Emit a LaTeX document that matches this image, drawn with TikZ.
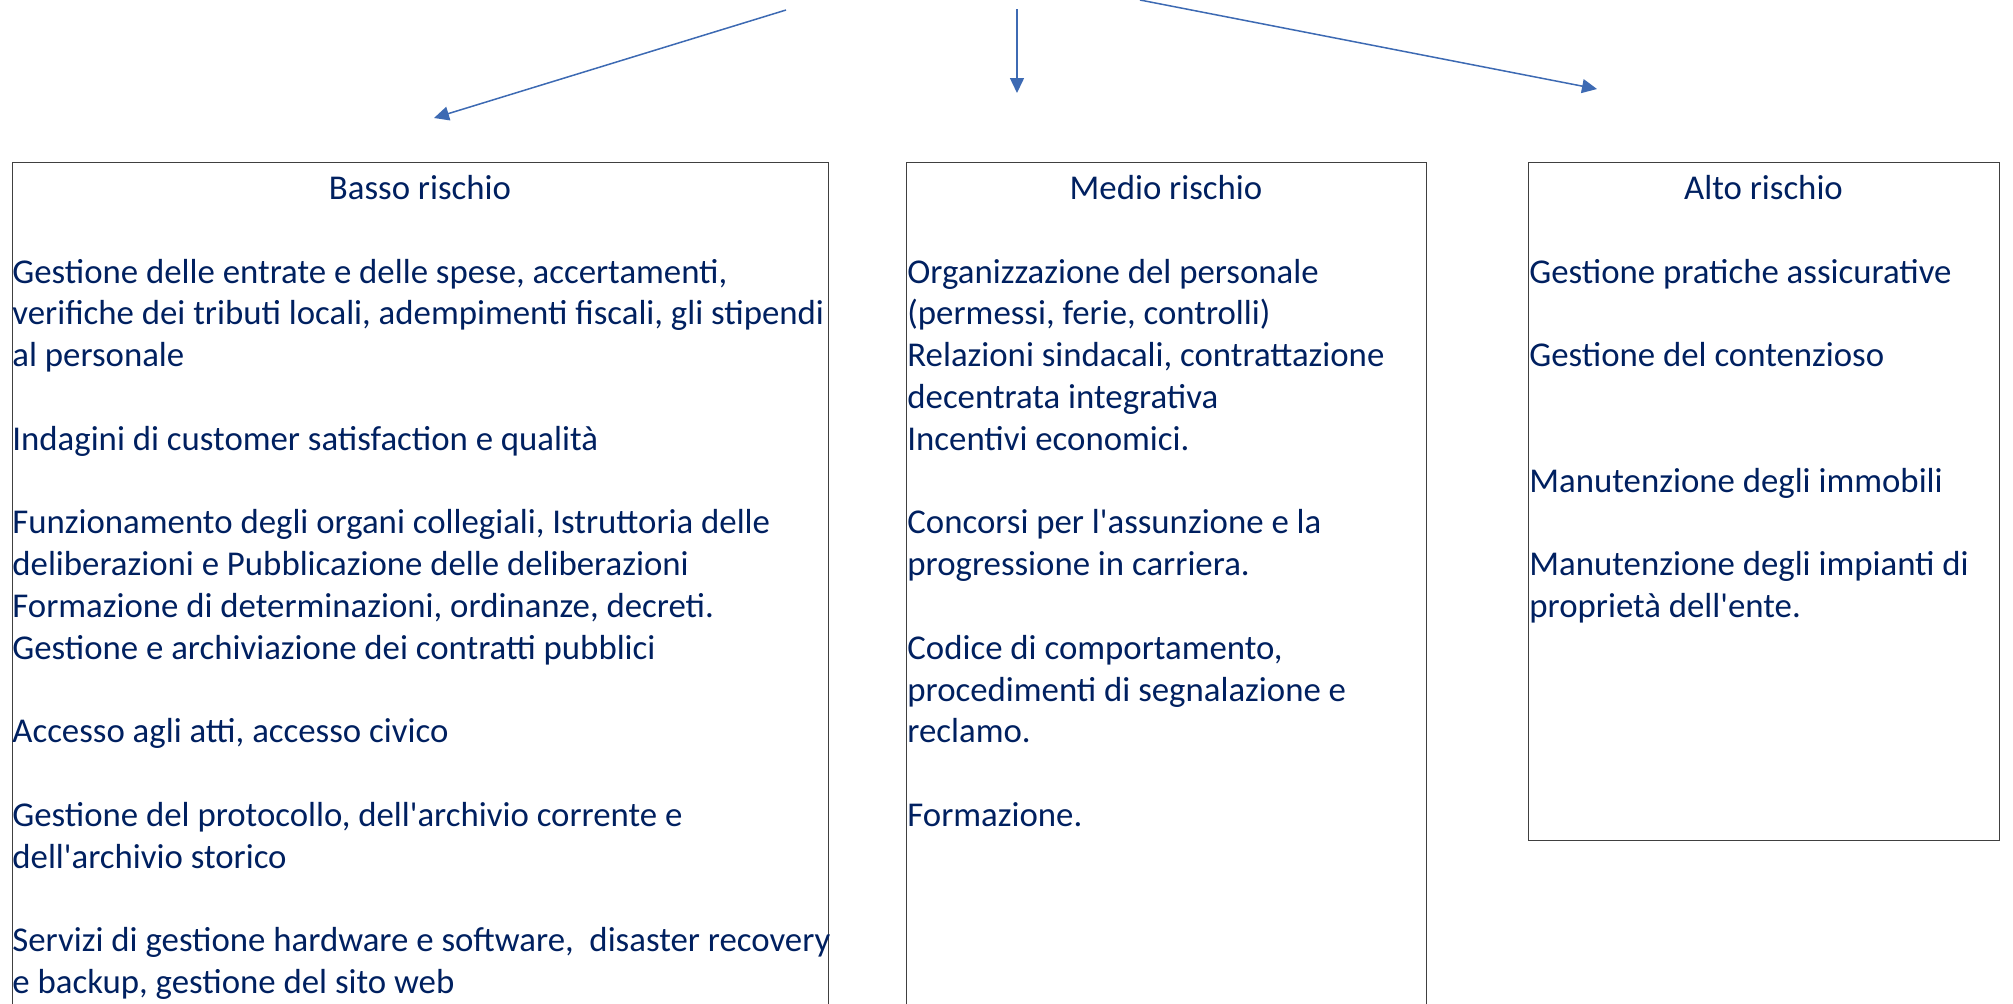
\documentclass[tikz,border=0pt]{standalone}
\usepackage{fontspec}
\setmainfont{Carlito}[Ligatures=TeXOff]
\usetikzlibrary{arrows.meta,positioning}
\definecolor{navy}{HTML}{002060}
\definecolor{arrowblue}{HTML}{3D6AB3}
\definecolor{boxline}{HTML}{404040}
\newlength{\pxu}\setlength{\pxu}{0.5pt}
\newcommand{\boxtext}[1]{\begin{tabular}[t]{@{}l@{}}#1\end{tabular}}
\tikzset{
	riskbox/.style={draw=boxline, line width=0.7pt, anchor=north west, inner sep=0pt},
	risktitle/.style={anchor=base, inner sep=0pt},
	risktext/.style={anchor=base west, inner sep=0pt},
	link/.style={->, draw=arrowblue, fill=arrowblue, line width=0.75pt}
}

\begin{document}
\begin{tikzpicture}[x=0.5pt, y=-0.5pt, >={Triangle[length=7.5pt,width=7pt]},
		font=\fontsize{17.4}{20.9}\selectfont, text=navy]
			\useasboundingbox (0,0) rectangle (2013,1003);
			\clip (0,0) rectangle (2013,1003);

			% Boxes
			\node[riskbox, minimum width=816.5\pxu, minimum height=900\pxu] (basso) at (11.5,162) {};
			\node[riskbox, minimum width=520\pxu, minimum height=900\pxu] (medio) at (906,162) {};
			\node[riskbox, minimum width=471\pxu, minimum height=678\pxu] (alto) at (1528,162) {};

			% Titles
			\node[risktitle] (bassotitle) at (420,199) {Basso rischio};
			\node[risktitle] (mediotitle) at (1166,199) {Medio rischio};
			\node[risktitle] (altotitle) at (1763.5,199) {Alto rischio};

			% Box texts
			\node[risktext] (bassotext) at (12,283) {\boxtext{%
				Gestione delle entrate e delle spese, accertamenti,\\
				verifiche dei tributi locali, adempimenti fiscali, gli stipendi\\
				al personale\\
				\\
				Indagini di customer satisfaction e qualità\\
				\\
				Funzionamento degli organi collegiali, Istruttoria delle\\
				deliberazioni e Pubblicazione delle deliberazioni\\
				Formazione di determinazioni, ordinanze, decreti.\\
				Gestione e archiviazione dei contratti pubblici\\
				\\
				Accesso agli atti, accesso civico\\
				\\
				Gestione del protocollo, dell'archivio corrente e\\
				dell'archivio storico\\
				\\
				Servizi di gestione hardware e software,\ \ disaster recovery\\
				e backup, gestione del sito web}};
			\node[risktext] (mediotext) at (907,283) {\boxtext{%
				Organizzazione del personale\\
				(permessi, ferie, controlli)\\
				Relazioni sindacali, contrattazione\\
				decentrata integrativa\\
				Incentivi economici.\\
				\\
				Concorsi per l'assunzione e la\\
				progressione in carriera.\\
				\\
				Codice di comportamento,\\
				procedimenti di segnalazione e\\
				reclamo.\\
				\\
				Formazione.}};
			\node[risktext] (altotext) at (1529,283) {\boxtext{%
				Gestione pratiche assicurative\\
				\\
				Gestione del contenzioso\\
				\\
				\\
				Manutenzione degli immobili\\
				\\
				Manutenzione degli impianti di\\
				proprietà dell'ente.}};

			% Arrow ends
			\coordinate (srcL) at (786,10);
			\coordinate (tipL) at (434,118);
			\coordinate (srcM) at (1017,9);
			\coordinate (tipM) at (1017,93);
			\coordinate (srcR) at (1140,0);
			\coordinate (tipR) at (1597,89);

			% Arrows
			\draw[link] (srcL) -- (tipL);
			\draw[link] (srcM) -- (tipM);
			\draw[link] (srcR) -- (tipR);

		\end{tikzpicture}
\end{document}
